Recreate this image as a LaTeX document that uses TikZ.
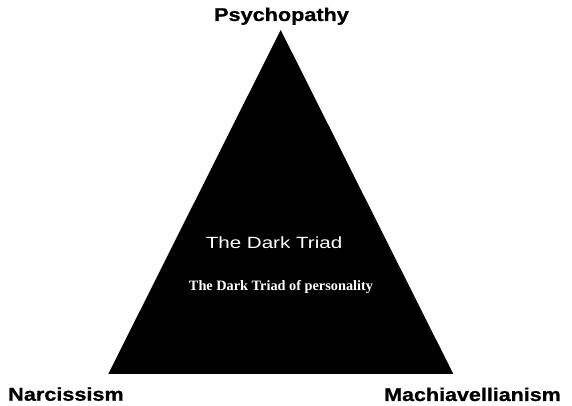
\documentclass[tikz,border=0pt]{standalone}
\usepackage{fontspec}
\setmainfont{Liberation Serif}
\setsansfont{Liberation Sans}
\newfontfamily\heavysans{Liberation Sans Bold}[FakeBold=0.8]
\begin{document}
\begin{tikzpicture}[x=1pt,y=1pt,
  corner/.style={anchor=base,inner sep=0pt,font=\heavysans\fontsize{18.5}{20}\selectfont},
  titletext/.style={anchor=base,inner sep=0pt,text=white,font=\sffamily\fontsize{16.2}{18}\selectfont},
  subtext/.style={anchor=base,inner sep=0pt,text=white,font=\rmfamily\bfseries\fontsize{14.3}{16}\selectfont}]
\useasboundingbox (0,0) rectangle (572,406);
\fill[white] (0,0) rectangle (572,406);
\coordinate (apex) at (280.7,376);
\coordinate (bl) at (108.3,32);
\coordinate (br) at (453.3,32);
\fill[black] (bl) -- (br) -- (apex) -- cycle;
\node[corner] (psy) at (281.5,385) {\scalebox{1.17}[1]{Psychopathy}};
\node[corner] (nar) at (66,5.3) {\scalebox{1.17}[1]{Narcissism}};
\node[corner] (mac) at (472.5,5) {\scalebox{1.16}[1]{Machiavellianism}};
\node[titletext] (title) at (274,157.7) {\scalebox{1.27}[1]{The Dark Triad}};
\node[subtext] (sub) at (281,115) {The Dark Triad of personality};
\end{tikzpicture}
\end{document}
